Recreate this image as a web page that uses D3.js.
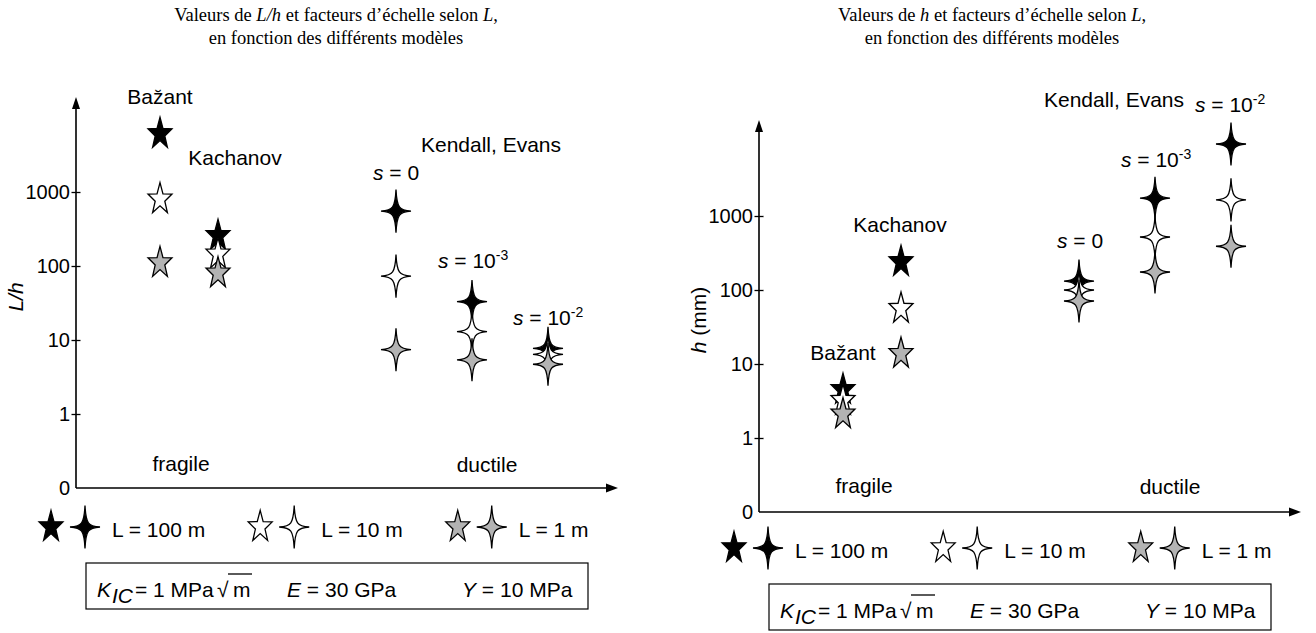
<!DOCTYPE html>
<html>
<head>
<meta charset="utf-8">
<script src="https://cdn.jsdelivr.net/npm/d3@7"></script>
<style>
  body { margin: 0; background: #fff; }
  svg { display: block; }
</style>
</head>
<body>
<div id="chart"></div>
<script>
"use strict";

// ---- data ----
const LENGTHS = ["L = 100 m", "L = 10 m", "L = 1 m"];
const FILLS = ["#000000", "#ffffff", "#b3b3b3"];

const FRAGILE_MODELS = ["Bažant", "Kachanov"];
const DUCTILE_MODELS = ["s = 0", "s = 10-3", "s = 10-2"];

const Y_TICKS = [0.1, 1, 10, 100, 1000];
const Y_TICK_LABELS = ["0", "1", "10", "100", "1000"];

// L/h, one value per length (100 m, 10 m, 1 m)
const LH_FRAGILE = [[6100, 800, 110], [256, 144, 80]];
const LH_DUCTILE = [[552, 73, 7.4], [33, 13, 5.4], [7.7, 6.4, 4.7]];

// h in mm, one value per length
const H_FRAGILE = [[4.5, 3.2, 2.1], [240, 56, 13.8]];
const H_DUCTILE = [[132, 100, 71], [1740, 520, 175], [9400, 1650, 390]];

// ---- layout ----
const WIDTH = 1316;
const HEIGHT = 633;
const SANS = "'Liberation Sans', Arial, sans-serif";
const SERIF = "'Liberation Serif', 'Times New Roman', serif";
const DECADE = 74;
const X_LENGTH = 542;
const TICK = 4.5;

const PANELS = [
    {
        axisX: 76, axisY: 488, topY: 97, legendY: 527, boxY: 563, regimeY: 471,
        titleX: 336,
        titleParts: [{ t: "Valeurs de " }, { t: "L/h", i: true }, { t: " et facteurs d’échelle selon " }, { t: "L", i: true }, { t: "," }],
        yLabel: { x: 23, y: 297, parts: [{ t: "L/h", i: true }] },
        fragile: LH_FRAGILE,
        ductile: LH_DUCTILE,
        labels: [
            { x: 160, y: 104, anchor: "middle", parts: [{ t: "Baz\u0306ant" }] },
            { x: 235, y: 165, anchor: "middle", parts: [{ t: "Kachanov" }] },
            { x: 491, y: 152, anchor: "middle", parts: [{ t: "Kendall, Evans" }] },
            { x: 373, y: 180, anchor: "start", model: 0 },
            { x: 438, y: 268, anchor: "start", model: 1 },
            { x: 513, y: 325, anchor: "start", model: 2 }
        ]
    },
    {
        axisX: 759, axisY: 512, topY: 120, legendY: 548, boxY: 584, regimeY: 493,
        titleX: 992,
        titleParts: [{ t: "Valeurs de " }, { t: "h", i: true }, { t: " et facteurs d’échelle selon " }, { t: "L", i: true }, { t: "," }],
        yLabel: { x: 706, y: 320, parts: [{ t: "h", i: true }, { t: " (mm)" }] },
        fragile: H_FRAGILE,
        ductile: H_DUCTILE,
        labels: [
            { x: 843, y: 360, anchor: "middle", parts: [{ t: "Bažant" }] },
            { x: 900, y: 232, anchor: "middle", parts: [{ t: "Kachanov" }] },
            { x: 1114, y: 107, anchor: "middle", parts: [{ t: "Kendall, Evans" }] },
            { x: 1057, y: 248, anchor: "start", model: 0 },
            { x: 1121, y: 167, anchor: "start", model: 1 },
            { x: 1195, y: 112, anchor: "start", model: 2 }
        ]
    }
];

// five-pointed star, a bit taller than wide like the original
const star5 = {
    draw(context) {
        const rx = 12.6, ry = 16.6, inner = 0.4;
        for (let i = 0; i < 10; i++) {
            const a = -Math.PI / 2 + (i * Math.PI) / 5;
            const r = i % 2 ? inner : 1;
            const px = rx * r * Math.cos(a);
            const py = ry * r * Math.sin(a);
            if (i === 0) context.moveTo(px, py);
            else context.lineTo(px, py);
        }
        context.closePath();
    }
};

// four-pointed sparkle with thin concave arms
const sparkle4 = {
    draw(context) {
        const ax = 15, ay = 21.5, a = 0.9, b = 3.2;
        context.moveTo(0, -ay);
        context.bezierCurveTo(a, -b, b, -a, ax, 0);
        context.bezierCurveTo(b, a, a, b, 0, ay);
        context.bezierCurveTo(-a, b, -b, a, -ax, 0);
        context.bezierCurveTo(-b, -a, -a, -b, 0, -ay);
        context.closePath();
    }
};

const starPath = d3.symbol().type(star5)();
const sparklePath = d3.symbol().type(sparkle4)();

const svg = d3
    .select("#chart")
    .append("svg")
    .attr("width", WIDTH)
    .attr("height", HEIGHT)
    .style("font-family", SANS);

PANELS.forEach(panel => renderPanel(svg, panel));

function renderPanel(container, p) {
    const g = container.append("g");
    const ax = p.axisX;

    const y = d3
        .scaleLog()
        .domain([0.1, 1e4])
        .range([p.axisY, p.axisY - 5 * DECADE]);

    const xFragile = d3.scalePoint().domain(FRAGILE_MODELS).range([ax + 84, ax + 142]);
    const xDuctile = d3.scalePoint().domain(DUCTILE_MODELS).range([ax + 320, ax + 472]);

    renderTitle(g, p);
    renderAxes(g, p, y);

    // Marks
    const fragilePoints = FRAGILE_MODELS.flatMap((model, i) =>
        p.fragile[i].map((value, series) => ({ x: xFragile(model), value, series }))
    );
    const ductilePoints = DUCTILE_MODELS.flatMap((model, i) =>
        p.ductile[i].map((value, series) => ({ x: xDuctile(model), value, series }))
    );

    drawSymbols(g, fragilePoints, starPath, y);
    drawSymbols(g, ductilePoints, sparklePath, y);

    // Annotations
    p.labels.forEach(label => {
        const parts = label.parts || modelParts(DUCTILE_MODELS[label.model]);
        richText(g, label.x, label.y, parts, label.anchor, 21);
    });

    richText(g, ax + 105, p.regimeY, [{ t: "fragile" }], "middle", 21);
    richText(g, ax + 411, p.regimeY + 1, [{ t: "ductile" }], "middle", 21);

    renderLegend(g, p);
    renderConstants(g, p);
}

function drawSymbols(g, points, path, y) {
    g.append("g")
        .selectAll("path")
        .data(points)
        .join("path")
        .attr("d", path)
        .attr("transform", d => `translate(${d.x},${y(d.value)})`)
        .attr("fill", d => FILLS[d.series])
        .attr("stroke", "#000")
        .attr("stroke-width", 1.3)
        .attr("stroke-linejoin", "miter");
}

function renderTitle(g, p) {
    richText(g, p.titleX, 21, p.titleParts, "middle", 18.5, SERIF);
    richText(g, p.titleX, 44, [{ t: "en fonction des différents modèles" }], "middle", 18.5, SERIF);
}

function renderAxes(g, p, y) {
    const ax = p.axisX;

    const yAxis = d3
        .axisLeft(y)
        .tickValues(Y_TICKS)
        .tickFormat((_, i) => Y_TICK_LABELS[i])
        .tickSize(TICK)
        .tickPadding(1.5);

    const axisG = g.append("g").attr("transform", `translate(${ax},0)`).call(yAxis);
    axisG.select(".domain").remove();
    axisG
        .selectAll(".tick line")
        .attr("x1", TICK)
        .attr("stroke", "#000")
        .attr("stroke-width", 1.3)
        .filter(d => d === Y_TICKS[0])
        .remove();
    axisG
        .selectAll(".tick text")
        .attr("fill", "#000")
        .style("font-family", SANS)
        .style("font-size", "20px");

    // axis lines with arrow heads
    g.append("path")
        .attr("d", `M${ax},${p.axisY}V${p.topY + 8}M${ax},${p.axisY}H${ax + X_LENGTH - 8}`)
        .attr("fill", "none")
        .attr("stroke", "#000")
        .attr("stroke-width", 1.6);

    g.append("path")
        .attr("d", `M${ax},${p.topY}l-4,12h8z`)
        .attr("fill", "#000");

    g.append("path")
        .attr("d", `M${ax + X_LENGTH},${p.axisY}l-12,-4.5v9z`)
        .attr("fill", "#000");

    const label = richText(g, 0, 0, p.yLabel.parts, "middle", 21);
    label.attr("transform", `translate(${p.yLabel.x},${p.yLabel.y}) rotate(-90)`);
}

function renderLegend(g, p) {
    let x = p.axisX - 25;
    LENGTHS.forEach((label, series) => {
        g.append("path")
            .attr("d", starPath)
            .attr("transform", `translate(${x},${p.legendY})`)
            .attr("fill", FILLS[series])
            .attr("stroke", "#000")
            .attr("stroke-width", 1.3);
        g.append("path")
            .attr("d", sparklePath)
            .attr("transform", `translate(${x + 34},${p.legendY})`)
            .attr("fill", FILLS[series])
            .attr("stroke", "#000")
            .attr("stroke-width", 1.3);
        const text = richText(g, x + 61, p.legendY + 10, [{ t: label }], "start", 21);
        x = x + 61 + text.node().getComputedTextLength() + 55;
    });
}

function renderConstants(g, p) {
    const ax = p.axisX;
    const base = p.boxY + 34;

    g.append("rect")
        .attr("x", ax + 10)
        .attr("y", p.boxY)
        .attr("width", 502)
        .attr("height", 46)
        .attr("fill", "none")
        .attr("stroke", "#000")
        .attr("stroke-width", 1.2);

    richText(g, ax + 21, base, [{ t: "K", i: true }], "start", 21);
    richText(g, ax + 36, base + 6, [{ t: "IC", i: true }], "start", 21);
    richText(g, ax + 59, base, [{ t: "= 1 MPa" }], "start", 21);
    richText(g, ax + 141, base, [{ t: "√" }], "start", 21);
    richText(g, ax + 157, base, [{ t: "m" }], "start", 21);
    g.append("line")
        .attr("x1", ax + 152)
        .attr("x2", ax + 176)
        .attr("y1", p.boxY + 11)
        .attr("y2", p.boxY + 11)
        .attr("stroke", "#000")
        .attr("stroke-width", 1.3);

    richText(g, ax + 211, base, [{ t: "E", i: true }, { t: " = 30 GPa" }], "start", 21);
    richText(g, ax + 386, base, [{ t: "Y", i: true }, { t: " = 10 MPa" }], "start", 21);
}

// "s = 10-3" -> italic s, superscript exponent
function modelParts(name) {
    const match = name.match(/^s = (10)(-\d)$/);
    if (!match) return [{ t: "s", i: true }, { t: name.slice(1) }];
    return [{ t: "s", i: true }, { t: " = " + match[1] }, { t: match[2], sup: true }];
}

function richText(g, x, y, parts, anchor, size, family) {
    const text = g
        .append("text")
        .attr("x", x)
        .attr("y", y)
        .attr("text-anchor", anchor)
        .attr("fill", "#000")
        .style("font-family", family || SANS)
        .style("font-size", size + "px");

    let raised = false;
    parts.forEach(part => {
        const span = text.append("tspan").text(part.t);
        if (part.i) span.style("font-style", "italic");
        if (part.sup) {
            span.attr("dy", -8).style("font-size", "14px");
            raised = true;
        } else if (raised) {
            span.attr("dy", 8);
            raised = false;
        }
    });
    return text;
}
</script>
</body>
</html>
